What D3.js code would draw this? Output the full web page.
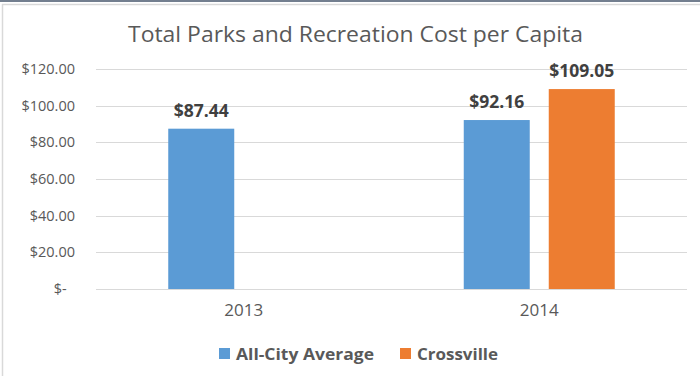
<!DOCTYPE html>
<html><head><meta charset="utf-8">
<script src="https://cdn.jsdelivr.net/npm/d3@7"></script>
<style>html,body{margin:0;padding:0;background:#fff;}svg{display:block;}</style>
</head><body>
<script>
const categories = ["2013", "2014"];
const seriesNames = ["All-City Average", "Crossville"];
const allCity = [87.44, 92.16];
const crossville = [null, 109.05];
const yTicks = [0, 20, 40, 60, 80, 100, 120];
const yTickLabels = ["$-\u2007", "$20.00", "$40.00", "$60.00", "$80.00", "$100.00", "$120.00"];
const valueLabels = [["$87.44", "$92.16"], [null, "$109.05"]];
const colors = ["#5B9BD5", "#ED7D31"];

const W = 700, H = 376;
const svg = d3.select("body").append("svg").attr("width", W).attr("height", H);
const font = "'Open Sans', 'Segoe UI', sans-serif";

// frame
svg.append("line").attr("x1", 0).attr("x2", W).attr("y1", 1).attr("y2", 1).attr("stroke", "#44546A").attr("stroke-width", 1.5);
svg.append("line").attr("x1", 2).attr("x2", W).attr("y1", 4.5).attr("y2", 4.5).attr("stroke", "#D9D9D9").attr("stroke-width", 1.5);
svg.append("line").attr("x1", 2.5).attr("x2", 2.5).attr("y1", 4).attr("y2", H).attr("stroke", "#D9D9D9").attr("stroke-width", 1.5);

const x0 = d3.scaleBand().domain(categories).range([96, 687]);
const bw = x0.bandwidth();
const x1 = d3.scaleBand().domain(seriesNames).range([bw * 0.2445, bw * 0.7555]).paddingInner(19 / 85);
const y = d3.scaleLinear().domain([0, 120]).range([289, 69]);

// title
svg.append("text").attr("x", 128).attr("y", 42)
  .attr("font-family", font).attr("font-size", 21.5).attr("fill", "#595959")
  .attr("textLength", 455).attr("lengthAdjust", "spacingAndGlyphs")
  .text("Total Parks and Recreation Cost per Capita");

// gridlines
svg.append("g").selectAll("line").data(yTicks).join("line")
  .attr("x1", 96).attr("x2", 687)
  .attr("y1", d => Math.round(y(d)) + 0.5).attr("y2", d => Math.round(y(d)) + 0.5)
  .attr("stroke", "#D9D9D9").attr("stroke-width", 1);

// y axis labels
const yAxis = d3.axisLeft(y).tickValues(yTicks).tickSize(0).tickPadding(0)
  .tickFormat((d, i) => yTickLabels[i]);
const gy = svg.append("g").attr("transform", "translate(75,0)").call(yAxis);
gy.select(".domain").remove();
gy.selectAll("text").attr("font-family", font).attr("font-size", 14.5).attr("fill", "#595959")
  .style("white-space", "pre");

// bars
const series = [allCity, crossville];
const g = svg.append("g");
categories.forEach((c, ci) => {
  seriesNames.forEach((s, si) => {
    const v = series[si][ci];
    if (v == null) return;
    const bx = x0(c) + x1(s);
    g.append("rect").attr("x", bx).attr("y", y(v)).attr("width", x1.bandwidth())
      .attr("height", y(0) - y(v)).attr("fill", colors[si]);
    g.append("text").attr("x", bx + x1.bandwidth() / 2).attr("y", y(v) - 12)
      .attr("text-anchor", "middle").attr("font-family", font).attr("font-weight", "bold")
      .attr("font-size", 17.5).attr("fill", "#404040").text(valueLabels[si][ci]);
  });
});

// x axis labels
const xAxis = d3.axisBottom(x0).tickSize(0).tickPadding(0);
const gx = svg.append("g").attr("transform", "translate(0,304)").call(xAxis);
gx.select(".domain").remove();
gx.selectAll("text").attr("font-family", font).attr("font-size", 17).attr("fill", "#595959");

// legend
const legendX = [219, 400];
const legendLen = [138, 81];
const lg = svg.append("g");
seriesNames.forEach((s, i) => {
  lg.append("rect").attr("x", legendX[i]).attr("y", 348).attr("width", 11).attr("height", 11).attr("fill", colors[i]);
  lg.append("text").attr("x", legendX[i] + 17).attr("y", 360).attr("font-family", font)
    .attr("font-weight", "bold").attr("font-size", 16.5).attr("fill", "#595959")
    .attr("textLength", legendLen[i]).attr("lengthAdjust", "spacingAndGlyphs").text(s);
});
</script>
</body></html>
